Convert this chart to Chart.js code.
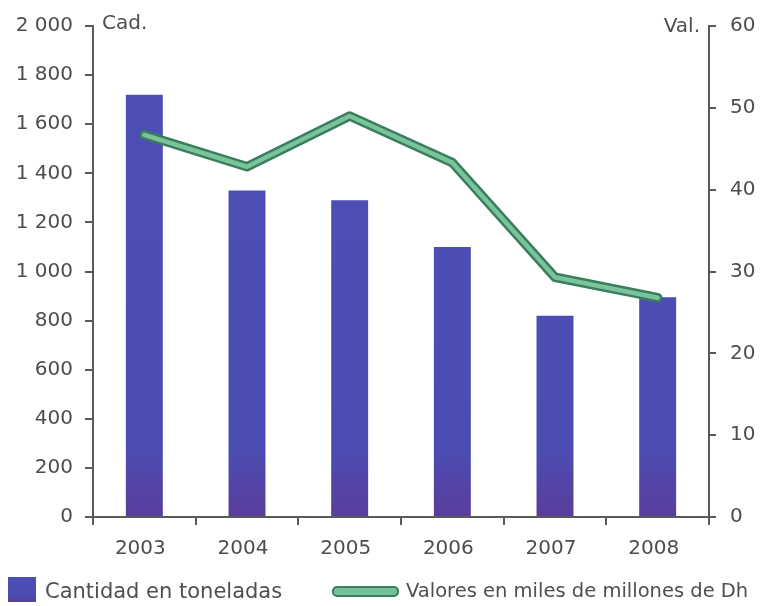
<!DOCTYPE html>
<html>
<head>
<meta charset="utf-8">
<script src="https://cdn.jsdelivr.net/npm/chart.js@4/dist/chart.umd.min.js"></script>
<style>
  html, body { margin: 0; padding: 0; background: #ffffff; }
  #wrap { position: relative; width: 767px; height: 606px; overflow: hidden; }
  #chart { position: absolute; left: 0; top: 0; }
  .leg { position: absolute; font-family: "DejaVu Sans", sans-serif; color: #4f4f4f; white-space: nowrap; line-height: 1; }
  #sw-bar { position: absolute; left: 8px; top: 577px; width: 28px; height: 25px;
            background: linear-gradient(#4d4fb4 0%, #4b4db2 70%, #574199 100%); }
  #sw-line { position: absolute; left: 332px; top: 586px; width: 63px; height: 7px;
             border-radius: 5px; border: 2px solid #3b7d5f; background: #74c197; }
</style>
</head>
<body>
<div id="wrap">
  <canvas id="chart" width="767" height="606"></canvas>
  <div id="sw-bar"></div>
  <div class="leg" style="left:45px; top:581px; font-size:21px;">Cantidad en toneladas</div>
  <div id="sw-line"></div>
  <div class="leg" style="left:406px; top:581px; font-size:19.5px;">Valores en miles de millones de Dh</div>
</div>
<script>
// Years on the horizontal axis
const years = ['2003', '2004', '2005', '2006', '2007', '2008'];
// Quantity in tonnes (bars, left axis)
const cantidad = [1720, 1330, 1290, 1100, 820, 895];
// Value in thousands of millions of Dh (line, right axis)
const valores = [46.7, 42.8, 49.0, 43.3, 29.3, 26.8];
// Axis ranges
const cantidadMax = 2000, cantidadStep = 200;
const valoresMax = 60, valoresStep = 10;

const axisColor = '#5a5a5a';
const textColor = '#4d4d4d';
const tickFont = { family: 'DejaVu Sans', size: 20 };

function spaced(v) {
  const s = String(v);
  return s.length > 3 ? s.slice(0, s.length - 3) + ' ' + s.slice(-3) : s;
}

// Small captions at the top of each vertical axis
const axisCaptions = {
  id: 'axisCaptions',
  afterDraw(chart) {
    const { ctx, chartArea } = chart;
    ctx.save();
    ctx.font = '20px "DejaVu Sans"';
    ctx.fillStyle = textColor;
    ctx.textBaseline = 'middle';
    ctx.textAlign = 'left';
    ctx.fillText('Cad.', chartArea.left + 9, chartArea.top - 2);
    ctx.textAlign = 'right';
    ctx.fillText('Val.', chartArea.right - 9, chartArea.top + 1);
    ctx.restore();
  }
};

function barFill(context) {
  const area = context.chart.chartArea;
  if (!area) return '#4d4fb4';
  const g = context.chart.ctx.createLinearGradient(0, area.top, 0, area.bottom);
  g.addColorStop(0, '#4d4fb4');
  g.addColorStop(0.86, '#4b4db2');
  g.addColorStop(1, '#5a3d9c');
  return g;
}

new Chart(document.getElementById('chart'), {
  data: {
    labels: years,
    datasets: [
      {
        type: 'line',
        label: 'Valores en miles de millones de Dh',
        data: valores,
        yAxisID: 'yVal',
        borderColor: '#79c49b',
        borderWidth: 4.5,
        borderCapStyle: 'round',
        borderJoinStyle: 'round',
        pointRadius: 0,
        tension: 0,
        order: 1
      },
      {
        type: 'line',
        label: 'Valores (contorno)',
        data: valores,
        yAxisID: 'yVal',
        borderColor: '#3b7d5f',
        borderWidth: 9.5,
        borderCapStyle: 'round',
        borderJoinStyle: 'round',
        pointRadius: 0,
        tension: 0,
        order: 2
      },
      {
        type: 'bar',
        label: 'Cantidad en toneladas',
        data: cantidad,
        yAxisID: 'yCad',
        backgroundColor: barFill,
        borderWidth: 0,
        categoryPercentage: 1,
        barPercentage: 0.36,
        order: 3
      }
    ]
  },
  options: {
    responsive: false,
    animation: false,
    layout: { padding: { top: 26, bottom: 39, left: 0, right: 0 } },
    plugins: { legend: { display: false }, tooltip: { enabled: false } },
    scales: {
      x: {
        offset: true,
        grid: { display: true, drawOnChartArea: false, drawTicks: true, tickLength: 8, color: axisColor, lineWidth: 2, offset: true },
        border: { display: true, color: axisColor, width: 2 },
        ticks: { font: tickFont, color: textColor, padding: 12, labelOffset: -4, maxRotation: 0 },
        afterFit(scale) { scale.height = 50; }
      },
      yCad: {
        position: 'left',
        min: 0, max: cantidadMax,
        grid: { drawOnChartArea: false, drawTicks: true, tickLength: 8, color: axisColor, lineWidth: 2 },
        border: { display: true, color: axisColor, width: 2 },
        ticks: { stepSize: cantidadStep, font: tickFont, color: textColor, padding: 12, callback: v => spaced(v) },
        afterFit(scale) { scale.width = 93; }
      },
      yVal: {
        position: 'right',
        min: 0, max: valoresMax,
        grid: { drawOnChartArea: false, drawTicks: true, tickLength: 7, color: axisColor, lineWidth: 2 },
        border: { display: true, color: axisColor, width: 2 },
        ticks: { stepSize: valoresStep, font: tickFont, color: textColor, padding: 14 },
        afterFit(scale) { scale.width = 58; }
      }
    }
  },
  plugins: [axisCaptions]
});
</script>
</body>
</html>
